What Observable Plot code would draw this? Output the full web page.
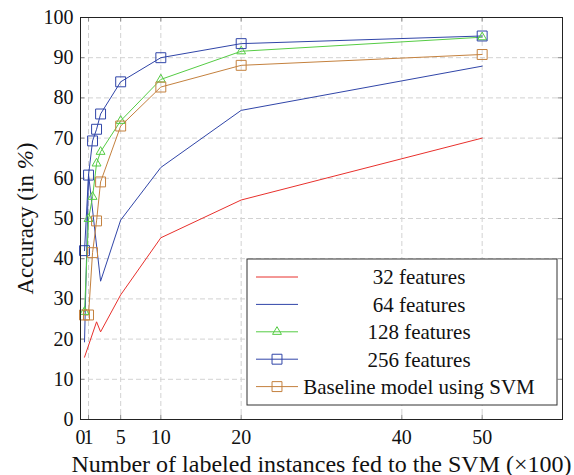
<!DOCTYPE html>
<html>
<head>
<meta charset="utf-8">
<script src="https://cdn.jsdelivr.net/npm/d3@7"></script>
<script src="https://cdn.jsdelivr.net/npm/@observablehq/plot@0.6"></script>
<style>
  html, body { margin: 0; padding: 0; background: white; }
  #chart { width: 574px; height: 475px; }
</style>
</head>
<body>
<div id="chart"></div>
<script>
// ---- data ----
const seriesNames = ["32 features", "64 features", "128 features", "256 features", "Baseline model using SVM"];
const seriesColors = ["#e8302c", "#3045a8", "#55cc44", "#3045a8", "#c4813e"];
const seriesSymbols = [null, null, "triangle", "square", "square"];

const x32  = [0.5, 2, 2.5, 5, 10, 20, 50];
const y32  = [15.5, 24.3, 21.8, 31, 45.2, 54.6, 70];
const x64  = [0.5, 1, 2.5, 5, 10, 20, 50];
const y64  = [19.3, 61, 34.4, 49.6, 62.7, 76.9, 87.9];
const x128 = [0.5, 1, 1.5, 2, 2.5, 5, 10, 20, 50];
const y128 = [26.8, 49.9, 55.4, 63.7, 66.6, 74.3, 84.6, 91.6, 95.1];
const x256 = [0.5, 1, 1.5, 2, 2.5, 5, 10, 20, 50];
const y256 = [42, 60.8, 69.3, 72.2, 76, 84, 90, 93.5, 95.4];
const xSvm = [0.5, 1, 1.5, 2, 2.5, 5, 10, 20, 50];
const ySvm = [26, 26, 41.5, 49.4, 59.1, 73, 82.7, 88.1, 90.8];

const xTicks = [0, 1, 5, 10, 20, 40, 50];
const yTicks = [0, 10, 20, 30, 40, 50, 60, 70, 80, 90, 100];
const xLabel = "Number of labeled instances fed to the SVM (×100)";
const yLabel = "Accuracy (in %)";

// ---- build table ----
const xsAll = [x32, x64, x128, x256, xSvm];
const ysAll = [y32, y64, y128, y256, ySvm];
const rows = [];
xsAll.forEach((xs, i) => xs.forEach((x, j) => rows.push({series: seriesNames[i], idx: i, x, y: ysAll[i][j]})));

const gridX = xTicks.filter(d => d !== 0);
const gridY = yTicks.filter(d => d !== 0 && d !== 100);

const marks = [
  Plot.ruleX(gridX, {x: d => d, stroke: "#d2d2d2", strokeWidth: 1, strokeDasharray: "5,3"}),
  Plot.ruleY(gridY, {y: d => d, stroke: "#d2d2d2", strokeWidth: 1, strokeDasharray: "5,3"}),
  Plot.ruleX(xTicks, {x: d => d, y1: 0, y2: 1.1, stroke: "#8a8a8a"}),
  Plot.ruleX(xTicks, {x: d => d, y1: 98.9, y2: 100, stroke: "#8a8a8a"}),
  Plot.ruleY(yTicks, {y: d => d, x1: 0, x2: 0.55, stroke: "#8a8a8a"}),
  Plot.ruleY(yTicks, {y: d => d, x1: 59.45, x2: 60, stroke: "#8a8a8a"}),
];
seriesNames.forEach((name, i) => {
  const data = rows.filter(r => r.idx === i);
  marks.push(Plot.line(data, {x: "x", y: "y", stroke: seriesColors[i], strokeWidth: 1}));
});
seriesNames.forEach((name, i) => {
  if (!seriesSymbols[i]) return;
  const data = rows.filter(r => r.idx === i);
  marks.push(Plot.dot(data, {x: "x", y: "y", symbol: seriesSymbols[i], r: seriesSymbols[i] === "square" ? 5.6 : 3.3,
    stroke: seriesColors[i], strokeWidth: 1, fill: "none"}));
});
marks.push(Plot.frame({stroke: "#222", strokeWidth: 1}));
marks.push(Plot.axisX({ticks: xTicks, tickSize: 0, tickPadding: 10, tickFormat: d => String(d),
  label: null}));
marks.push(Plot.axisY({ticks: yTicks, tickSize: 0, tickPadding: 7, tickFormat: d => String(d),
  label: null}));
marks.push(Plot.axisX({ticks: [], label: xLabel, labelAnchor: "center", labelArrow: "none", labelOffset: 52, fontSize: 24}));
marks.push(Plot.axisY({ticks: [], label: yLabel, labelAnchor: "center", labelArrow: "none", labelOffset: 64, fontSize: 23}));

const chart = Plot.plot({
  width: 574,
  height: 475,
  marginLeft: 80,
  marginRight: 12,
  marginTop: 17,
  marginBottom: 56,
  style: {fontFamily: "'Liberation Serif', 'Times New Roman', serif", fontSize: "20px", background: "white", color: "#111"},
  x: {domain: [0, 60]},
  y: {domain: [0, 100]},
  marks
});
document.getElementById("chart").appendChild(chart);

const svg = d3.select(chart);
// italic percent sign in y label (as in the LaTeX original)
svg.selectAll("text").filter(function() { return this.textContent === yLabel; }).each(function() {
  const t = d3.select(this);
  const parts = yLabel.split("%");
  t.text(null);
  t.append("tspan").text(parts[0]);
  t.append("tspan").style("font-style", "italic").text("%");
  t.append("tspan").text(parts[1]);
});

// ---- legend ----
const lg = svg.append("g").attr("transform", "translate(247,259)");
lg.append("rect").attr("x", 0).attr("y", 0).attr("width", 310).attr("height", 146)
  .attr("fill", "white").attr("stroke", "#333").attr("stroke-width", 1);
seriesNames.forEach((name, i) => {
  const cy = 18 + i * 27.4;
  lg.append("line").attr("x1", 9).attr("x2", 51).attr("y1", cy).attr("y2", cy)
    .attr("stroke", seriesColors[i]).attr("stroke-width", 1);
  if (seriesSymbols[i]) {
    const sym = seriesSymbols[i] === "square" ? d3.symbolSquare : d3.symbolTriangle;
    const r = seriesSymbols[i] === "square" ? 5.6 : 3.3;
    lg.append("path").attr("d", d3.symbol(sym, Math.PI * r * r)())
      .attr("transform", `translate(30,${cy})`)
      .attr("fill", "none").attr("stroke", seriesColors[i]).attr("stroke-width", 1);
  }
  lg.append("text").attr("x", 172).attr("y", cy).attr("dy", "0.35em")
    .attr("text-anchor", "middle").attr("fill", "#111")
    .style("font-family", "'Liberation Serif', serif").style("font-size", "21px")
    .text(name);
});
</script>
</body>
</html>
